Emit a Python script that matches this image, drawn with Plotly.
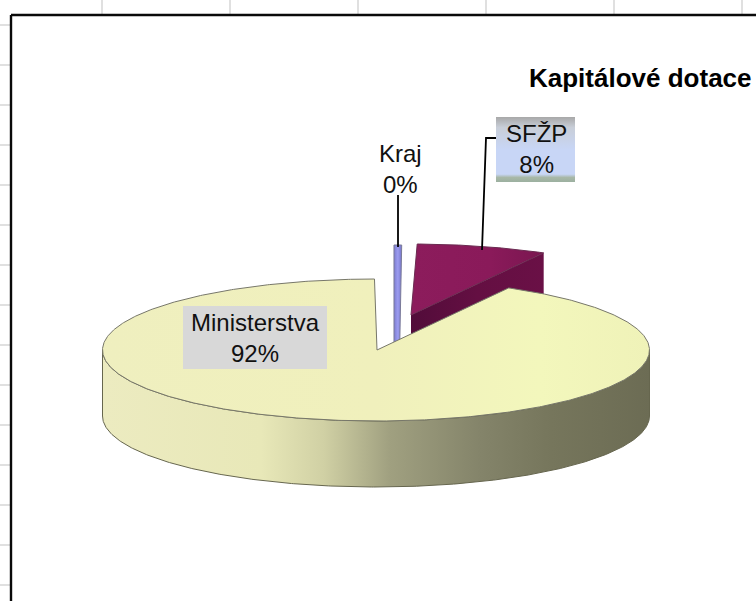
import numpy as np
import plotly.graph_objects as go

# ---- data ----
categories = ["SFŽP", "Ministerstva", "Kraj"]
values = [7.70, 91.85, 0.45]
chart_title = "Kapitálové dotace"

# ---- pie geometry (pixels of the 756x601 frame) ----
CX, CY, RX, RY, DEPTH = 376.0, 350.0, 273.5, 71.0, 66.0
FIRST_ANGLE = 1.3
EXPLODE = {"SFŽP": (35.0, -35.0), "Ministerstva": (0.0, 0.0), "Kraj": (19.5, -34.0)}

fig = go.Figure()


def arc(t0, t1, cx, cy):
    t = np.radians(np.linspace(t0, t1, max(int(abs(t1 - t0)) * 2, 2) + 1))
    return cx + RX * np.sin(t), cy - RY * np.cos(t)


def poly(x, y, line=None, grad=None, fill=None, width=1.0):
    x = np.append(x, x[0])
    y = np.append(y, y[0])
    kw = dict(x=x, y=y, mode="lines", fill="toself", hoverinfo="skip", showlegend=False,
              line=dict(color=line or "rgba(0,0,0,0)", width=width if line else 0))
    if grad is not None:
        kw["fillgradient"] = grad
    else:
        kw["fillcolor"] = fill
    fig.add_trace(go.Scatter(**kw))


def gradient(kind, stops):
    return dict(type=kind, colorscale=[[a, b] for a, b in stops])


# slice angles from the values
total = sum(values)
spans = {}
angle = FIRST_ANGLE
for name, val in zip(categories, values):
    sweep = 360.0 * val / total
    spans[name] = (angle, angle + sweep)
    angle += sweep

# --- SFŽP (exploded, behind) ---
t0, t1 = spans["SFŽP"]
ox, oy = EXPLODE["SFŽP"]
ax, ay = CX + ox, CY + oy
rx_, ry_ = arc(t0, t1, ax, ay)
poly(np.array([ax, rx_[-1], rx_[-1], ax]), np.array([ay, ry_[-1], ry_[-1] + DEPTH, ay + DEPTH]),
     grad=gradient("horizontal", [(0, "#520c3a"), (0.5, "#640f42"), (1, "#6a1046")]))
poly(np.r_[ax, rx_], np.r_[ay, ry_], line="#6a2a50", width=1,
     grad=gradient("horizontal", [(0, "#8c1c5c"), (0.6, "#8a1a5a"), (1, "#7a1650")]))

# --- Kraj (exploded, behind) ---
t0, t1 = spans["Kraj"]
ox, oy = EXPLODE["Kraj"]
ax, ay = CX + ox, CY + oy
rx_, ry_ = arc(t0, t1, ax, ay)
poly(np.array([ax - 1.5, rx_[0], rx_[-1], ax + 3.5]), np.array([ay + DEPTH, ry_[0], ry_[-1], ay + DEPTH]),
     line="#7a7a98", width=1,
     grad=gradient("horizontal", [(0, "#7c7cd0"), (0.5, "#9c9cf0"), (1, "#7474c8")]))

# --- Ministerstva ---
t0, t1 = spans["Ministerstva"]
fx, fy = arc(90, 270, CX, CY)
poly(np.r_[fx, fx[::-1]], np.r_[fy, fy[::-1] + DEPTH], line="#66664e", width=1,
     grad=gradient("horizontal", [(0, "#ecebc0"), (0.29, "#e8e8b8"), (0.405, "#d0d0a4"),
                                  (0.525, "#a0a080"), (0.69, "#84846a"), (0.82, "#76765c"),
                                  (1, "#6c6c54")]))
mx, my = arc(t0, t1, CX, CY)
poly(np.r_[CX + 1, mx], np.r_[CY, my], line="#77776a", width=1,
     grad=gradient("horizontal", [(0, "#efefbf"), (0.5, "#f0f0bc"), (0.8, "#f3f7bc"), (1, "#eff2b8")]))

# --- label background boxes ---
poly(np.array([183, 327, 327, 183]), np.array([306, 306, 369, 369]), fill="#d8d8d8")
poly(np.array([496, 575, 575, 496]), np.array([117, 117, 182, 182]),
     grad=gradient("vertical", [(0, "#9cb0a0"), (0.07, "#a8b8a8"), (0.12, "#c8d6f6"),
                                (0.5, "#c8d6f6"), (0.84, "#c8ced8"), (1, "#a8a8a8")]))

# --- leader lines ---
for lx, ly in ([398, 398], [195, 247]), ([496, 486, 482], [138, 138, 250]):
    fig.add_trace(go.Scatter(x=lx, y=ly, mode="lines", hoverinfo="skip", showlegend=False,
                             line=dict(color="#000000", width=1.8)))

# --- sheet gridlines and chart frame ---
shapes = []
for gx in (102, 230, 358, 486, 614, 742):
    shapes.append(dict(type="line", x0=gx, x1=gx, y0=0, y1=15, line=dict(color="#e0e0e0", width=2)))
for gy in range(25, 601, 40):
    shapes.append(dict(type="line", x0=0, x1=10, y0=gy, y1=gy, line=dict(color="#e0e0e0", width=2)))
shapes.append(dict(type="line", x0=11, x1=756, y0=15, y1=15, line=dict(color="#0a0a0a", width=2.4)))
shapes.append(dict(type="line", x0=11, x1=11, y0=15, y1=601, line=dict(color="#0a0a0a", width=2.4)))

# --- texts ---
FONT = "Liberation Sans"
pct = {n: f"{round(100 * v / total)}%" for n, v in zip(categories, values)}
LABEL_AT = {"Ministerstva": (255, 337.5), "Kraj": (400, 168.5), "SFŽP": (536, 149)}
annotations = [dict(x=LABEL_AT[n][0], y=LABEL_AT[n][1], text=f"{n}<br>{pct[n]}", showarrow=False,
                    xanchor="center", yanchor="middle", align="center",
                    font=dict(family=FONT, size=24, color="#111111"))
               for n in categories]
annotations.append(dict(x=640.5, y=78, text=f"<b>{chart_title}</b>", showarrow=False, xanchor="center",
                        yanchor="middle", font=dict(family=FONT, size=26, color="#000000")))

fig.update_layout(
    width=756, height=601, margin=dict(l=0, r=0, t=0, b=0),
    paper_bgcolor="#ffffff", plot_bgcolor="#ffffff", showlegend=False,
    xaxis=dict(range=[0, 756], visible=False, fixedrange=True),
    yaxis=dict(range=[601, 0], visible=False, fixedrange=True),
    shapes=shapes, annotations=annotations,
)
fig.write_html("out.html", config={"displayModeBar": False},
               post_script="document.body.style.margin='0';document.body.style.overflow='hidden';")
